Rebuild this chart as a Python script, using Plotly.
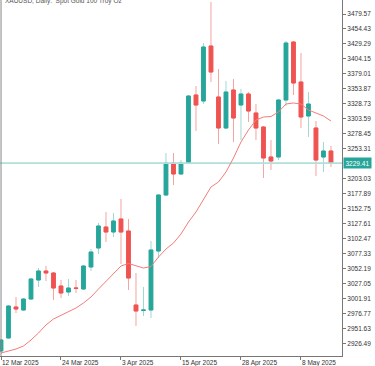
import plotly.graph_objects as go

TITLE = "XAUUSD, Daily:  Spot Gold 100 Troy Oz"

DATES = [
    "12 Mar 2025", "13 Mar 2025", "14 Mar 2025", "17 Mar 2025", "18 Mar 2025",
    "19 Mar 2025", "20 Mar 2025", "21 Mar 2025", "24 Mar 2025", "25 Mar 2025",
    "26 Mar 2025", "27 Mar 2025", "28 Mar 2025", "31 Mar 2025", "1 Apr 2025",
    "2 Apr 2025", "3 Apr 2025", "4 Apr 2025", "7 Apr 2025", "8 Apr 2025",
    "9 Apr 2025", "10 Apr 2025", "11 Apr 2025", "14 Apr 2025", "15 Apr 2025",
    "16 Apr 2025", "17 Apr 2025", "21 Apr 2025", "22 Apr 2025", "23 Apr 2025",
    "24 Apr 2025", "25 Apr 2025", "28 Apr 2025", "29 Apr 2025", "30 Apr 2025",
    "1 May 2025", "2 May 2025", "5 May 2025", "6 May 2025", "7 May 2025",
    "8 May 2025", "9 May 2025", "12 May 2025", "13 May 2025", "14 May 2025",
]

OPEN = [
    2914.25, 2936.06, 2988.06, 2983.03, 3001.48, 3033.35, 3048.45, 3045.10, 3023.29, 3013.22,
    3019.94, 3018.26, 3055.16, 3087.04, 3122.26, 3113.88, 3135.68, 3115.55, 2991.42, 2982.19,
    2983.03, 3082.00, 3175.94, 3229.62, 3211.17, 3229.62, 3343.69, 3333.63, 3425.89, 3340.34,
    3288.34, 3352.08, 3326.92, 3345.37, 3313.50, 3290.01, 3239.69, 3239.69, 3335.31, 3432.60,
    3365.50, 3308.47, 3288.34, 3239.69, 3249.75,
]
HIGH = [
    2934.38, 2991.42, 3004.84, 3003.16, 3036.71, 3053.49, 3056.84, 3046.78, 3033.35, 3035.03,
    3033.35, 3058.52, 3085.36, 3128.97, 3147.43, 3145.75, 3169.23, 3135.68, 3045.10, 3021.61,
    3098.78, 3177.20, 3246.40, 3246.40, 3234.66, 3343.69, 3358.79, 3430.93, 3499.70, 3387.31,
    3367.18, 3370.53, 3353.76, 3348.72, 3328.60, 3291.69, 3268.21, 3336.98, 3434.28, 3434.28,
    3414.15, 3348.72, 3300.08, 3264.85, 3258.14,
]
LOW = [
    2912.57, 2934.38, 2978.00, 2981.35, 2999.80, 3021.61, 3031.68, 2999.80, 3003.16, 3006.51,
    3011.55, 3016.58, 3048.45, 3076.97, 3097.10, 3105.49, 3060.20, 3016.58, 2956.19, 2972.96,
    2969.61, 3070.26, 3174.27, 3192.72, 3209.49, 3227.94, 3283.30, 3328.60, 3365.50, 3261.49,
    3286.66, 3264.85, 3268.21, 3298.40, 3268.21, 3204.46, 3217.88, 3234.66, 3325.24, 3343.69,
    3288.34, 3273.24, 3207.81, 3214.52, 3222.91,
]
CLOSE = [
    2932.70, 2989.74, 2984.70, 3001.48, 3035.03, 3048.45, 3045.10, 3019.94, 3011.55, 3019.94,
    3019.44, 3056.84, 3080.32, 3123.94, 3113.88, 3132.33, 3113.88, 3036.71, 2981.35, 2983.03,
    3083.68, 3175.94, 3229.62, 3211.17, 3229.62, 3342.02, 3326.92, 3424.21, 3382.27, 3288.34,
    3348.72, 3305.11, 3345.37, 3316.85, 3288.34, 3238.01, 3232.98, 3335.31, 3430.93, 3363.82,
    3306.79, 3328.60, 3234.66, 3249.75, 3229.41,
]
MA = [
    2910.90, 2914.25, 2917.61, 2922.64, 2932.70, 2944.44, 2957.87, 2967.93, 2973.80, 2979.67,
    2986.38, 2994.77, 3004.84, 3018.26, 3031.68, 3045.10, 3056.84, 3061.03, 3056.84, 3053.49,
    3056.00, 3071.93, 3085.36, 3095.42, 3110.52, 3130.65, 3147.43, 3167.56, 3189.37, 3197.75,
    3214.52, 3238.01, 3264.85, 3284.98, 3301.76, 3306.79, 3307.63, 3315.18, 3328.60, 3330.27,
    3328.60, 3318.53, 3313.50, 3308.47, 3300.08,
]

LAST_PRICE = 3229.41
X_TICK_LABELS = ["12 Mar 2025", "24 Mar 2025", "3 Apr 2025", "15 Apr 2025", "28 Apr 2025", "8 May 2025"]
Y_TICKS = [2926.49, 2951.63, 2976.77, 3001.91, 3027.05, 3052.19, 3077.33, 3102.47, 3127.61,
           3152.75, 3177.89, 3203.03, 3253.31, 3278.45, 3303.59, 3328.73, 3353.87, 3379.01,
           3404.15, 3429.29, 3454.43, 3479.57]

UP = "#26a69a"
DOWN = "#ef5350"
UP_WICK = "#9fd8d2"
DOWN_WICK = "#f5a3a1"
FONT = "Liberation Sans"

idx = list(range(len(DATES)))
body_hi = [max(o, c) for o, c in zip(OPEN, CLOSE)]
body_lo = [min(o, c) for o, c in zip(OPEN, CLOSE)]

fig = go.Figure()

# current price line
fig.add_trace(go.Scatter(
    x=[-1, len(DATES) + 1], y=[LAST_PRICE, LAST_PRICE], mode="lines",
    line=dict(color="#b2dfdb", width=1.6), hoverinfo="skip", showlegend=False))

# wicks
fig.add_trace(go.Candlestick(
    x=idx, open=OPEN, high=HIGH, low=LOW, close=CLOSE,
    increasing=dict(line=dict(color=UP_WICK, width=1), fillcolor=UP),
    decreasing=dict(line=dict(color=DOWN_WICK, width=1), fillcolor=DOWN),
    whiskerwidth=0, showlegend=False, hoverinfo="skip"))

# solid bodies
fig.add_trace(go.Candlestick(
    x=idx, open=OPEN, high=body_hi, low=body_lo, close=CLOSE,
    increasing=dict(line=dict(color=UP, width=1), fillcolor=UP),
    decreasing=dict(line=dict(color=DOWN, width=1), fillcolor=DOWN),
    whiskerwidth=0, showlegend=False, hoverinfo="skip"))

# moving average
fig.add_trace(go.Scatter(
    x=idx, y=MA, mode="lines", line=dict(color="#f47c7a", width=1),
    hoverinfo="skip", showlegend=False))

tickvals = [DATES.index(d) for d in X_TICK_LABELS]

fig.update_layout(
    width=375, height=366,
    margin=dict(l=0, r=33, t=0, b=10),
    paper_bgcolor="white", plot_bgcolor="white",
    font=dict(family=FONT, size=6.5, color="#333333"),
    hovermode=False,
    xaxis=dict(
        range=[-0.133, 45.47], rangeslider=dict(visible=False),
        showgrid=False, zeroline=False,
        showline=True, linecolor="#777777", linewidth=1,
        tickmode="array", tickvals=tickvals, ticktext=X_TICK_LABELS,
        ticks="outside", ticklen=3, tickcolor="#777777",
        ticklabelposition="outside right",
        tickfont=dict(family=FONT, size=6.5, color="#333333"),
    ),
    yaxis=dict(
        side="right", range=[2905.87, 3503.06],
        showgrid=False, zeroline=False,
        showline=True, linecolor="#777777", linewidth=1,
        tickmode="array", tickvals=Y_TICKS, ticktext=[f"{v:.2f}" for v in Y_TICKS],
        ticks="outside", ticklen=3, tickcolor="#777777",
        tickfont=dict(family=FONT, size=6.5, color="#333333"),
    ),
    shapes=[dict(type="line", xref="paper", yref="paper", x0=0.003, x1=0.003, y0=0, y1=1,
                 line=dict(color="#888888", width=1))],
    annotations=[
        dict(text=TITLE, xref="paper", yref="paper", x=0.008, y=1, xanchor="left",
             yanchor="top", yshift=5, showarrow=False,
             font=dict(family=FONT, size=6.5, color="#555555")),
        dict(text=f"{LAST_PRICE:.2f}", xref="paper", yref="y", x=1, y=LAST_PRICE,
             xanchor="left", yanchor="middle", xshift=1, showarrow=False,
             bgcolor=UP, borderpad=1.5, font=dict(family=FONT, size=6.5, color="white")),
    ],
)

fig.write_html(
    "out.html",
    config={"displayModeBar": False},
    post_script="document.body.style.margin='0';document.body.style.overflow='hidden';",
)
